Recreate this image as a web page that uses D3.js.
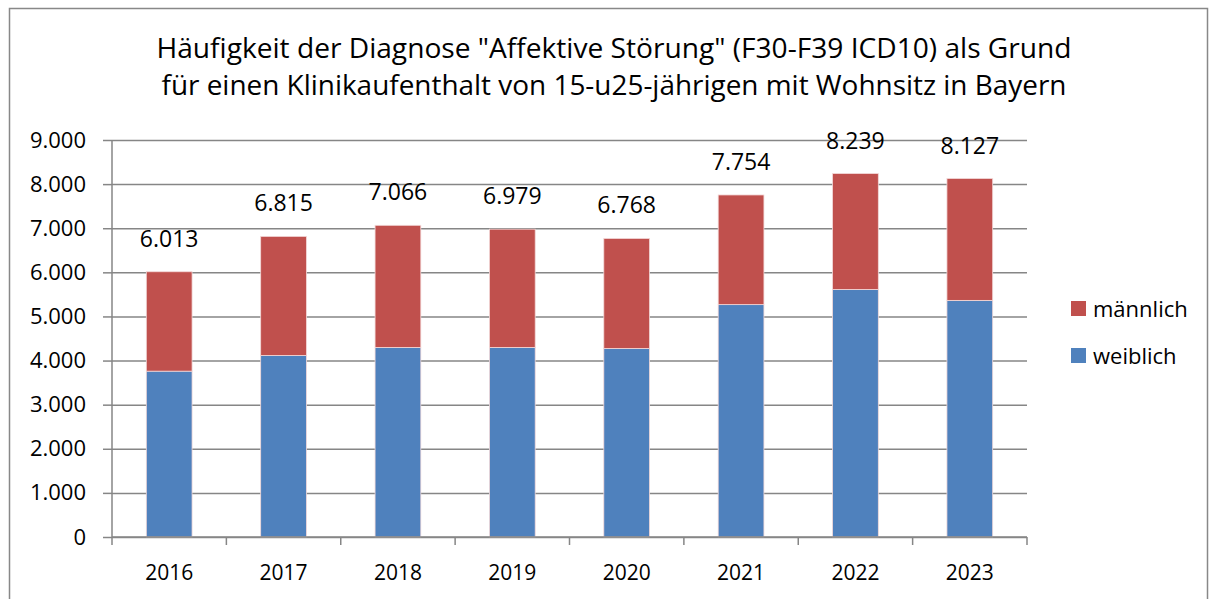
<!DOCTYPE html>
<html>
<head>
<meta charset="utf-8">
<script src="https://cdn.jsdelivr.net/npm/d3@7"></script>
<style>
  body { margin: 0; background: #fff; }
  svg { display: block; font-family: "Open Sans", sans-serif; }
</style>
</head>
<body>
<div id="chart"></div>
<script>
var years = ["2016", "2017", "2018", "2019", "2020", "2021", "2022", "2023"];
var weiblich = [3760, 4116, 4298, 4298, 4275, 5268, 5613, 5364];
var gesamt = [6013, 6815, 7066, 6979, 6768, 7754, 8239, 8127];
var maennlich = gesamt.map(function(d, i) { return d - weiblich[i]; });
var yTicks = [0, 1000, 2000, 3000, 4000, 5000, 6000, 7000, 8000, 9000];
var titleLines = [
  "Häufigkeit der Diagnose \"Affektive Störung\" (F30-F39 ICD10) als Grund",
  "für einen Klinikaufenthalt von 15-u25-jährigen mit Wohnsitz in Bayern"
];

window.onload = () => {
  var W = 1215, H = 599;
  var margin = { top: 140, right: 188, bottom: 62, left: 112 },
    width = W - margin.left - margin.right,
    height = H - margin.top - margin.bottom;
  var font = "'Open Sans', sans-serif";

  var fmt = function(v) { return d3.format(",")(v).replace(/,/g, "."); };

  var svg = d3.select("#chart").append("svg")
    .attr("width", W)
    .attr("height", H);

  // outer frame
  svg.append("rect")
    .attr("x", 9.5).attr("y", 8.5)
    .attr("width", 1198).attr("height", 620)
    .attr("fill", "none")
    .attr("stroke", "#888")
    .attr("stroke-width", 1.5);

  // title (stretched to the original line widths)
  var titleWidths = [915, 905];
  svg.append("g").selectAll("text")
    .data(titleLines)
    .join("text")
    .attr("x", 614)
    .attr("y", function(d, i) { return 58 + i * 37; })
    .attr("text-anchor", "middle")
    .attr("font-size", 27)
    .attr("textLength", function(d, i) { return titleWidths[i]; })
    .attr("lengthAdjust", "spacingAndGlyphs")
    .attr("fill", "#000")
    .text(function(d) { return d; });

  var g = svg.append("g")
    .attr("transform", "translate(" + margin.left + "," + margin.top + ")");

  var x = d3.scaleBand()
    .domain(years)
    .range([0, width])
    .paddingInner(0.6)
    .paddingOuter(0.3);

  var y = d3.scaleLinear()
    .domain([0, 9000])
    .range([height, 0]);

  // grid
  g.append("g")
    .attr("class", "grid")
    .call(d3.axisLeft(y)
      .tickValues(yTicks)
      .tickSize(-width)
      .tickFormat(function() { return null; }))
    .call(function(s) { s.select(".domain").remove(); })
    .selectAll("line")
    .attr("stroke", "#868686")
    .attr("stroke-width", 1.5);

  // y axis
  var ya = g.append("g")
    .call(d3.axisLeft(y)
      .tickValues(yTicks)
      .tickSize(9)
      .tickPadding(17)
      .tickFormat(fmt));
  ya.attr("font-family", font).attr("font-size", 22);
  ya.select(".domain").attr("stroke", "#868686").attr("stroke-width", 1.5)
    .attr("d", "M0," + height + "V0");
  ya.selectAll("line").attr("stroke", "#868686").attr("stroke-width", 1.5);
  ya.selectAll("text").attr("fill", "#000");

  // stacked bars
  var rows = years.map(function(yr, i) {
    return { year: yr, weiblich: weiblich[i], maennlich: maennlich[i] };
  });
  var stack = d3.stack().keys(["weiblich", "maennlich"])(rows);
  var colors = { weiblich: "#4F81BD", maennlich: "#C0504D" };

  g.append("g").selectAll("g")
    .data(stack)
    .join("g")
    .attr("fill", function(d) { return colors[d.key]; })
    .selectAll("rect")
    .data(function(d) { return d; })
    .join("rect")
    .attr("x", function(d) { return x(d.data.year); })
    .attr("y", function(d) { return y(d[1]); })
    .attr("width", x.bandwidth())
    .attr("height", function(d) { return y(d[0]) - y(d[1]); })
    .attr("stroke", "#f3d9d9")
    .attr("stroke-width", 0.8);

  // x axis
  var xa = g.append("g")
    .attr("transform", "translate(0," + height + ")");
  xa.append("line")
    .attr("x1", 0).attr("x2", width)
    .attr("stroke", "#868686").attr("stroke-width", 1.5);
  xa.selectAll(".tk")
    .data(d3.range(years.length + 1))
    .join("line")
    .attr("x1", function(i) { return i * width / years.length; })
    .attr("x2", function(i) { return i * width / years.length; })
    .attr("y1", 0).attr("y2", 8)
    .attr("stroke", "#868686").attr("stroke-width", 1.5);
  xa.selectAll("text")
    .data(years)
    .join("text")
    .attr("x", function(d) { return x(d) + x.bandwidth() / 2; })
    .attr("y", 42.5)
    .attr("text-anchor", "middle")
    .attr("font-size", 21)
    .text(function(d) { return d; });

  // total labels
  g.append("g").selectAll("text")
    .data(rows)
    .join("text")
    .attr("x", function(d) { return x(d.year) + x.bandwidth() / 2; })
    .attr("y", function(d, i) { return y(gesamt[i]) - 25; })
    .attr("text-anchor", "middle")
    .attr("font-size", 23)
    .text(function(d, i) { return fmt(gesamt[i]); });

  // legend
  var legend = svg.append("g").attr("transform", "translate(1071,301)");
  var items = [["männlich", colors.maennlich], ["weiblich", colors.weiblich]];
  var li = legend.selectAll("g")
    .data(items)
    .join("g")
    .attr("transform", function(d, i) { return "translate(0," + i * 47 + ")"; });
  li.append("rect")
    .attr("width", 15).attr("height", 15)
    .attr("fill", function(d) { return d[1]; });
  li.append("text")
    .attr("x", 22).attr("y", 16)
    .attr("font-size", 22)
    .text(function(d) { return d[0]; });
};
</script>
</body>
</html>
